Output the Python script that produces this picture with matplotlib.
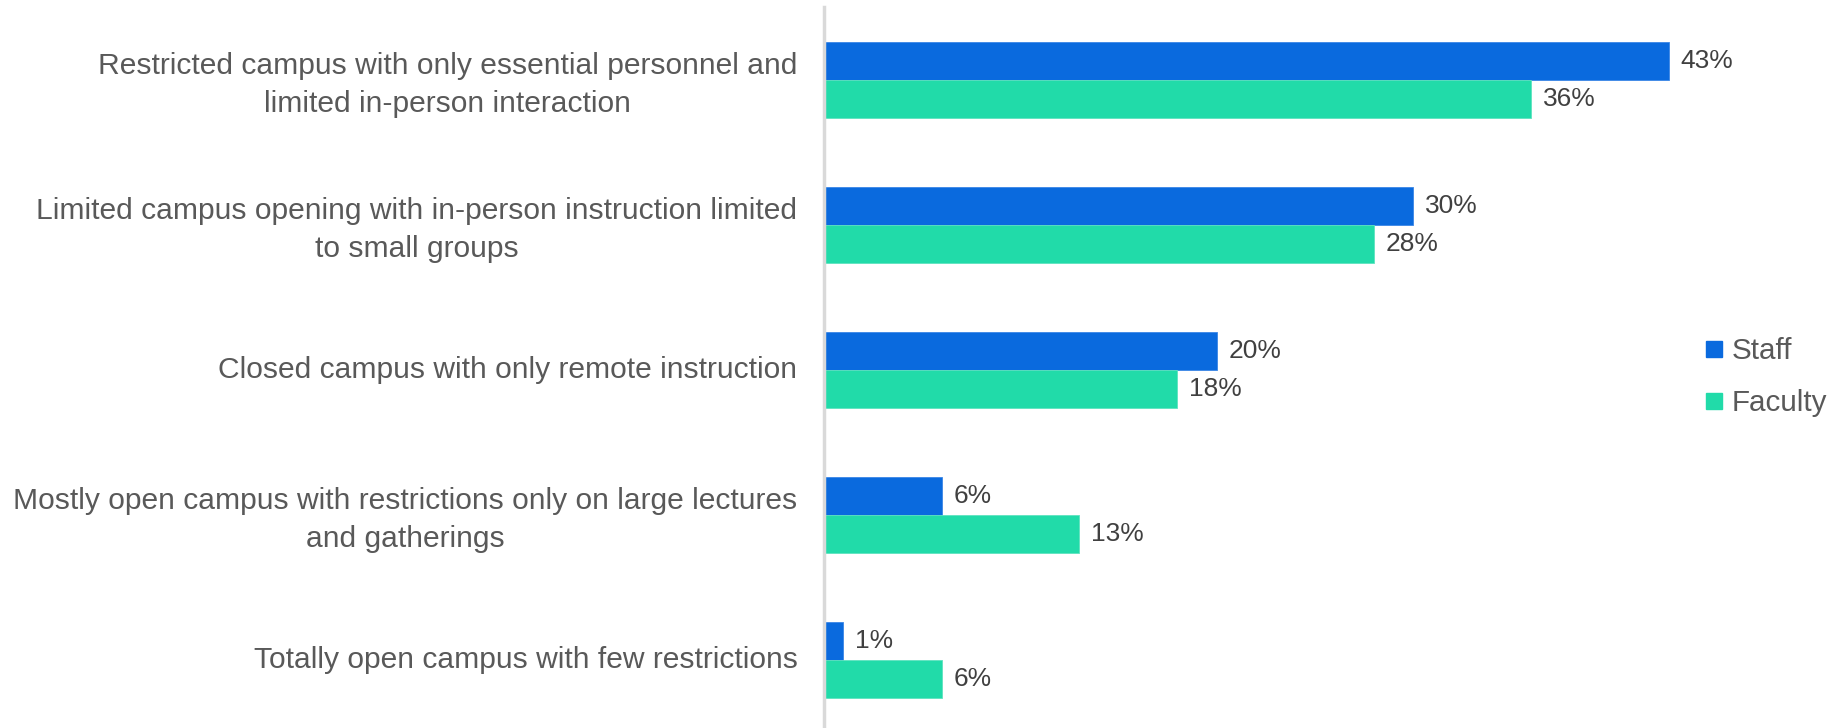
import matplotlib; matplotlib.use("Agg")
import matplotlib.pyplot as plt
from matplotlib.lines import Line2D

plt.rcParams['font.family'] = ['Liberation Sans', 'DejaVu Sans']

categories = [
    "Restricted campus with only essential personnel and\nlimited in-person interaction",
    "Limited campus opening with in-person instruction limited\nto small groups",
    "Closed campus with only remote instruction",
    "Mostly open campus with restrictions only on large lectures\nand gatherings",
    "Totally open campus with few restrictions",
]
staff = [43, 30, 20, 6, 1]
faculty = [36, 28, 18, 13, 6]
series_names = ["Staff", "Faculty"]

c_staff = "#0A6ADE"
c_fac = "#21DBA9"
txt = "#595959"

fig = plt.figure(figsize=(18.43, 7.28), dpi=100)
ax = fig.add_axes([0.447, 0.0, 0.533, 0.99])

h = 0.262
y = list(range(len(categories)))
ax.barh([i - h/2 for i in y], staff, height=h, color=c_staff, edgecolor="#3a86e6", lw=0.6)
ax.barh([i + h/2 for i in y], faculty, height=h, color=c_fac, edgecolor="#5ee3bf", lw=0.6)

for i in y:
    ax.text(staff[i] + 0.6, i - h/2, f"{staff[i]}%", va="center", ha="left", fontsize=19, color="#404040")
    ax.text(faculty[i] + 0.6, i + h/2, f"{faculty[i]}%", va="center", ha="left", fontsize=19, color="#404040")

ax.set_xlim(0, 50)
ax.set_ylim(4.47, -0.5)
ax.set_yticks([i - 0.02 for i in y])
ax.set_yticklabels(categories, fontsize=21.6, color=txt)
for t in ax.get_yticklabels():
    t.set_multialignment("center")
    t.set_linespacing(1.45)
ax.tick_params(axis="y", length=0, pad=19)
ax.set_xticks([])
for s in ["top", "right", "bottom"]:
    ax.spines[s].set_visible(False)
ax.spines["left"].set_color("#D9D9D9")
ax.spines["left"].set_linewidth(2.5)

handles = [Line2D([], [], marker="s", ls="", color=c, markersize=11) for c in (c_staff, c_fac)]
fig.legend(handles, series_names, loc="center left", bbox_to_anchor=(0.9257, 0.482),
           frameon=False, fontsize=21.3, handlelength=0.55, handletextpad=0.3,
           labelspacing=0.8, borderpad=0, borderaxespad=0, labelcolor=txt)

fig.savefig("out.png", dpi=100)
